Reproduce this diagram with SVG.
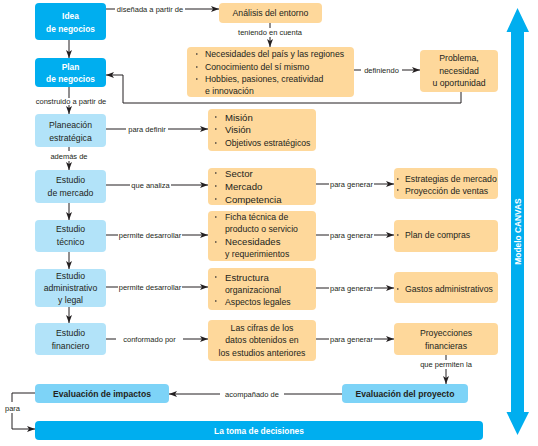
<svg xmlns="http://www.w3.org/2000/svg" width="538" height="446" viewBox="0 0 538 446">
<defs>
<marker id="ah" markerWidth="8" markerHeight="6" refX="8" refY="3" orient="auto" markerUnits="userSpaceOnUse">
<path d="M0,0 L8,3 L0,6 L2,3 z" fill="#231f20"/>
</marker>
<style>
text{font-family:"Liberation Sans",Arial,sans-serif;fill:#231f20}
.bb{fill:#00aeef}
.lb{fill:#b2e3f9}
.mb{fill:#7dd3f7}
.ob{fill:#fed89b}
.wt{fill:#fff;font-weight:bold;font-size:8.4px;text-anchor:middle}
.bt{font-size:8.7px;text-anchor:middle}
.et{font-size:8.6px;font-weight:bold;text-anchor:middle}
.lbl{font-size:7.5px;text-anchor:middle}
.li{font-size:8.7px}
.lg{font-size:9.6px}
.bu{fill:#7a6a55}
.cn path{fill:none;stroke:#231f20;stroke-width:1}
</style>
</defs>
<rect width="538" height="446" fill="#fff"/>

<g id="connectors" class="cn">
<path d="M106,9 H115 M185,9 H219" marker-end="url(#ah)"/>
<path d="M270,23 V28 M270,37 V47" marker-end="url(#ah)"/>
<path d="M354,70 H361 M402,70 H420" marker-end="url(#ah)"/>
<path d="M461,92 V103 H123 V75 H106" marker-end="url(#ah)"/>
<path d="M69,40 V58" marker-end="url(#ah)"/>
<path d="M69,87 V98 M69,105 V114" marker-end="url(#ah)"/>
<path d="M106,129 H126 M168,129 H208" marker-end="url(#ah)"/>
<path d="M69,147 V151 M69,161 V170" marker-end="url(#ah)"/>
<path d="M106,185 H130 M171,185 H208" marker-end="url(#ah)"/>
<path d="M316,184 H329 M374,184 H394" marker-end="url(#ah)"/>
<path d="M69,203 V220" marker-end="url(#ah)"/>
<path d="M106,235 H118 M182,235 H208" marker-end="url(#ah)"/>
<path d="M316,235 H329 M374,235 H394" marker-end="url(#ah)"/>
<path d="M69,252 V269" marker-end="url(#ah)"/>
<path d="M106,287 H118 M182,287 H208" marker-end="url(#ah)"/>
<path d="M316,288 H329 M374,288 H394" marker-end="url(#ah)"/>
<path d="M69,307 V323" marker-end="url(#ah)"/>
<path d="M106,339 H116 M183,339 H208" marker-end="url(#ah)"/>
<path d="M316,339 H329 M374,339 H394" marker-end="url(#ah)"/>
<path d="M446,355 V360 M446,369 V384" marker-end="url(#ah)"/>
<path d="M342,394 H284 M220,394 H169" marker-end="url(#ah)"/>
<path d="M35,393 H12 V402 M12,413 V429 H35" marker-end="url(#ah)"/>
</g>

<g id="labels">
<text class="lbl" x="150" y="11.5">diseñada a partir de</text>
<text class="lbl" x="270" y="34.5">teniendo en cuenta</text>
<text class="lbl" x="381.5" y="72.5">definiendo</text>
<text class="lbl" x="71" y="103.5">construido a partir de</text>
<text class="lbl" x="147" y="131.5">para definir</text>
<text class="lbl" x="69" y="158.5">además de</text>
<text class="lbl" x="150.5" y="187.5">que analiza</text>
<text class="lbl" x="351.5" y="186.5">para generar</text>
<text class="lbl" x="150" y="237.5">permite desarrollar</text>
<text class="lbl" x="351.5" y="237.5">para  generar</text>
<text class="lbl" x="150" y="289.5">permite desarrollar</text>
<text class="lbl" x="351.5" y="290.5">para  generar</text>
<text class="lbl" x="149.5" y="341.5">conformado por</text>
<text class="lbl" x="351.5" y="341.5">para  generar</text>
<text class="lbl" x="446" y="367">que permiten la</text>
<text class="lbl" x="252" y="396.5">acompañado de</text>
<text class="lbl" x="12.5" y="410.5">para</text>
</g>

<g id="idea">
<rect class="bb" x="35" y="3" width="71" height="37" rx="4"/>
<text class="wt" x="70.5" y="18.5">Idea</text>
<text class="wt" x="70.5" y="32">de negocios</text>
</g>
<g id="plan">
<rect class="bb" x="35" y="58" width="71" height="29" rx="4"/>
<text class="wt" x="70.5" y="69.5">Plan</text>
<text class="wt" x="70.5" y="82">de negocios</text>
</g>
<g id="planeacion">
<rect class="lb" x="35" y="114" width="71" height="33" rx="4"/>
<text class="bt" x="70.5" y="128">Planeación</text>
<text class="bt" x="70.5" y="140.5">estratégica</text>
</g>
<g id="mercado">
<rect class="lb" x="35" y="170" width="71" height="33" rx="4"/>
<text class="bt" x="70.5" y="183">Estudio</text>
<text class="bt" x="70.5" y="195.5">de mercado</text>
</g>
<g id="tecnico">
<rect class="lb" x="35" y="220" width="71" height="32" rx="4"/>
<text class="bt" x="70.5" y="232">Estudio</text>
<text class="bt" x="70.5" y="245">técnico</text>
</g>
<g id="administrativo">
<rect class="lb" x="35" y="269" width="71" height="38" rx="4"/>
<text class="bt" x="70.5" y="279">Estudio</text>
<text class="bt" x="70.5" y="291">administrativo</text>
<text class="bt" x="70.5" y="303">y legal</text>
</g>
<g id="financiero">
<rect class="lb" x="35" y="323" width="71" height="32" rx="4"/>
<text class="bt" x="70.5" y="336">Estudio</text>
<text class="bt" x="70.5" y="349">financiero</text>
</g>

<g id="analisis">
<rect class="ob" x="219" y="3" width="103" height="20" rx="4"/>
<text class="bt" x="270.5" y="16">Análisis del entorno</text>
</g>
<g id="necesidades">
<rect class="ob" x="187" y="47" width="167" height="50" rx="4"/>
<rect class="bu" x="196" y="53" width="1.5" height="2"/>
<rect class="bu" x="196" y="66" width="1.5" height="2"/>
<rect class="bu" x="196" y="78" width="1.5" height="2"/>
<text class="li" x="205" y="56.5">Necesidades del país y las regiones</text>
<text class="li" x="205" y="70">Conocimiento del sí mismo</text>
<text class="li" x="205" y="81.5">Hobbies, pasiones, creatividad</text>
<text class="li" x="205" y="93.5">e innovación</text>
</g>
<g id="problema">
<rect class="ob" x="420" y="50" width="78" height="42" rx="4"/>
<text class="bt" x="459" y="60.5">Problema,</text>
<text class="bt" x="459" y="74">necesidad</text>
<text class="bt" x="459" y="85.5">u oportunidad</text>
</g>
<g id="mision">
<rect class="ob" x="208" y="109" width="108" height="42" rx="4"/>
<rect class="bu" x="215" y="116" width="1.5" height="2"/>
<rect class="bu" x="215" y="128" width="1.5" height="2"/>
<rect class="bu" x="215" y="142" width="1.5" height="2"/>
<text class="li lg" x="225" y="120.5">Misión</text>
<text class="li lg" x="225" y="132.5">Visión</text>
<text class="li" x="225" y="146">Objetivos estratégicos</text>
</g>
<g id="sector">
<rect class="ob" x="208" y="168" width="108" height="37" rx="4"/>
<rect class="bu" x="215" y="172" width="1.5" height="2"/>
<rect class="bu" x="215" y="185" width="1.5" height="2"/>
<rect class="bu" x="215" y="198" width="1.5" height="2"/>
<text class="li lg" x="225" y="176.5">Sector</text>
<text class="li lg" x="225" y="190">Mercado</text>
<text class="li lg" x="225" y="203">Competencia</text>
</g>
<g id="estrategias">
<rect class="ob" x="394" y="168" width="104" height="31" rx="4"/>
<rect class="bu" x="397" y="178" width="1.5" height="2"/>
<rect class="bu" x="397" y="189" width="1.5" height="2"/>
<text class="li" x="405" y="182">Estrategias de mercado</text>
<text class="li" x="405" y="193.5">Proyección de ventas</text>
</g>
<g id="ficha">
<rect class="ob" x="208" y="211" width="108" height="50" rx="4"/>
<rect class="bu" x="215" y="216" width="1.5" height="2"/>
<rect class="bu" x="215" y="241" width="1.5" height="2"/>
<text class="li" x="225" y="220">Ficha técnica de</text>
<text class="li" x="225" y="231.5">producto o servicio</text>
<text class="li lg" x="225" y="245">Necesidades</text>
<text class="li" x="225" y="256.5">y requerimientos</text>
</g>
<g id="compras">
<rect class="ob" x="394" y="220" width="104" height="32" rx="4"/>
<rect class="bu" x="397" y="234" width="1.5" height="2"/>
<text class="li" x="405" y="238">Plan de compras</text>
</g>
<g id="estructura">
<rect class="ob" x="208" y="268" width="108" height="42" rx="4"/>
<rect class="bu" x="215" y="276" width="1.5" height="2"/>
<rect class="bu" x="215" y="300" width="1.5" height="2"/>
<text class="li lg" x="225" y="280.5">Estructura</text>
<text class="li" x="225" y="292.5">organizacional</text>
<text class="li" x="225" y="305">Aspectos legales</text>
</g>
<g id="gastos">
<rect class="ob" x="394" y="272" width="104" height="31" rx="4"/>
<rect class="bu" x="397" y="288" width="1.5" height="2"/>
<text class="li" x="405" y="292">Gastos administrativos</text>
</g>
<g id="cifras">
<rect class="ob" x="208" y="320" width="108" height="41" rx="4"/>
<text class="bt" x="262" y="330.5">Las cifras de los</text>
<text class="bt" x="262" y="343">datos obtenidos en</text>
<text class="bt" x="262" y="355.5">los estudios anteriores</text>
</g>
<g id="proyecciones">
<rect class="ob" x="394" y="323" width="104" height="32" rx="4"/>
<text class="bt" x="446" y="335.5">Proyecciones</text>
<text class="bt" x="446" y="348.5">financieras</text>
</g>

<g id="impactos">
<rect class="mb" x="35" y="384" width="134" height="19" rx="4"/>
<text class="et" x="102" y="397">Evaluación de impactos</text>
</g>
<g id="proyecto">
<rect class="mb" x="342" y="384" width="126" height="19" rx="4"/>
<text class="et" x="405" y="397">Evaluación del proyecto</text>
</g>
<g id="decisiones">
<rect class="bb" x="35" y="421" width="448" height="19" rx="4"/>
<text class="wt" x="259" y="434">La toma de decisiones</text>
</g>

<g id="canvas">
<polygon class="bb" points="517.5,8 529,32 524,32 524,412 529,412 517.5,435 506.5,412 511,412 511,32 506.5,32"/>
<text class="wt" transform="translate(520.5,231.5) rotate(-90)">Modelo CANVAS</text>
</g>
</svg>
